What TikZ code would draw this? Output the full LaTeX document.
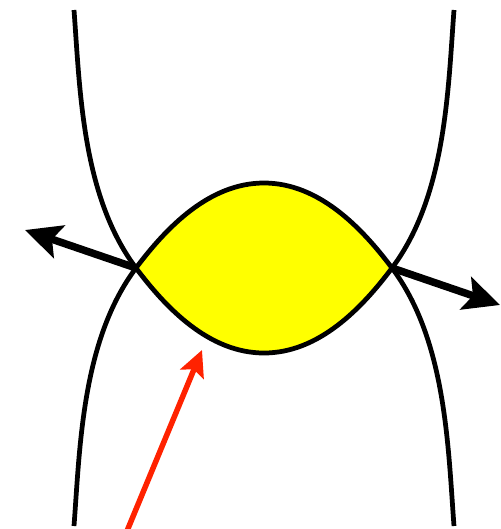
\documentclass[tikz,border=0pt]{standalone}
\usepackage{tikz}
\usetikzlibrary{arrows.meta}
\definecolor{ink}{HTML}{000000}
\definecolor{lens}{HTML}{FFFF00}
\definecolor{pointer}{HTML}{FF2200}
\tikzset{
  curve/.style={draw=ink, line width=0.095cm, line join=round},
  normal/.style={-{Stealth[length=0.72cm, width=0.68cm, inset=0.15cm]}, line width=0.15cm, draw=ink},
  pointarrow/.style={-{Stealth[length=0.52cm, width=0.5cm, inset=0.1cm]}, line width=0.11cm, draw=pointer},
}
\begin{document}
\begin{tikzpicture}[x=0.02cm, y=-0.02cm]
  \useasboundingbox (0,0) rectangle (501,529);
  \coordinate (cl) at (136,268);
  \coordinate (cr) at (392,268);
  \def\cupcurve{(74,10) .. controls (80,90) and (82,196) .. (cl) .. controls (166,308) and (209,353) .. (264,353) .. controls (319,353) and (362,308) .. (cr) .. controls (446,196) and (448,90) .. (454,10)}
  \def\capcurve{(74,526) .. controls (80,446) and (82,340) .. (cl) .. controls (166,228) and (209,183) .. (264,183) .. controls (319,183) and (362,228) .. (cr) .. controls (446,340) and (448,446) .. (454,526)}
  \begin{scope}
    \clip \cupcurve -- cycle;
    \fill[lens] \capcurve -- cycle;
  \end{scope}
  \draw[curve] \cupcurve;
  \draw[curve] \capcurve;
  \coordinate (nl) at (25,230);
  \coordinate (nr) at (500,305);
  \coordinate (tail) at (127,531);
  \coordinate (bottom) at (202,350);
  \draw[normal] (cl) -- (nl);
  \draw[normal] (cr) -- (nr);
  \draw[pointarrow] (tail) -- (bottom);
\end{tikzpicture}
\end{document}
